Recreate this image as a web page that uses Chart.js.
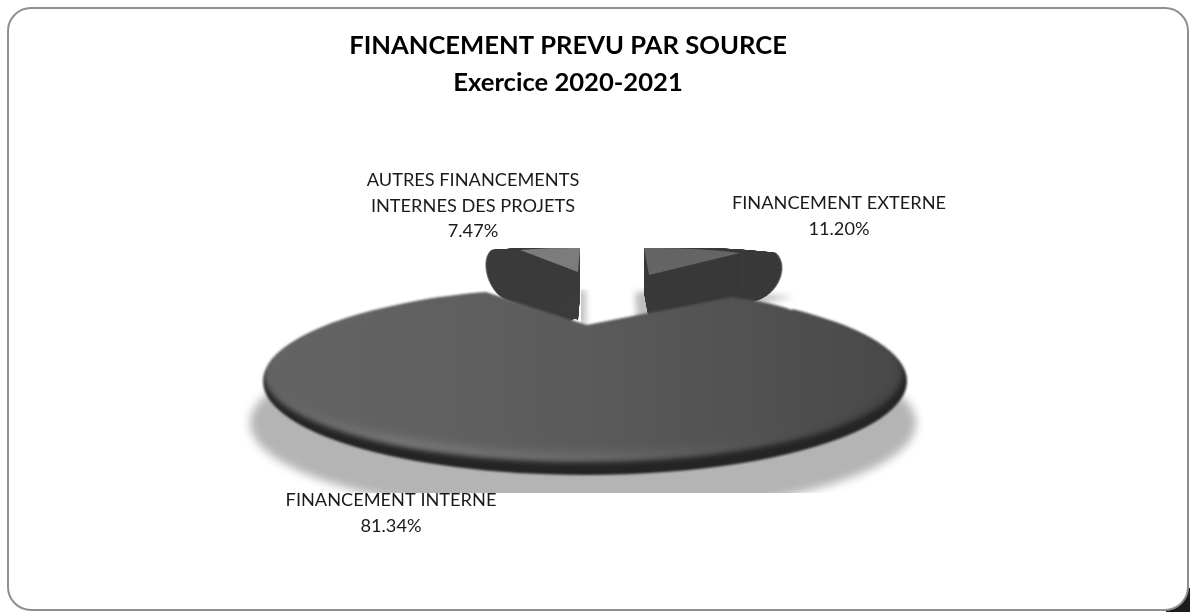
<!DOCTYPE html>
<html lang="fr">
<head>
<meta charset="utf-8">
<title>Financement prévu par source</title>
<script src="https://cdn.jsdelivr.net/npm/chart.js@4"></script>
<style>
html,body{margin:0;padding:0;background:#fff;width:1190px;height:612px;overflow:hidden}
#corner{position:absolute;right:0;bottom:0;width:24px;height:24px;background:#1c1c1c}
#frame{position:absolute;left:7px;top:7px;width:1178px;height:600px;border:2.5px solid #8f8f8f;border-radius:24px;background:#fff}
canvas{position:absolute;left:0;top:0}
</style>
</head>
<body>
<div id="corner"></div><div id="frame"></div>
<canvas id="c" width="1190" height="612"></canvas>
<script>
const titleLines = ["FINANCEMENT PREVU PAR SOURCE", "Exercice 2020-2021"];
const categories = ["FINANCEMENT EXTERNE", "FINANCEMENT INTERNE", "AUTRES FINANCEMENTS INTERNES DES PROJETS"];
const values = [11.20, 81.34, 7.47];
const labelLines = [["FINANCEMENT EXTERNE"], ["FINANCEMENT INTERNE"], ["AUTRES FINANCEMENTS", "INTERNES DES PROJETS"]];
const labelPlaces = [{x:839,y:203},{x:391,y:500},{x:473,y:180}];

// Drawing a slice with its own transform and colour, using the element Chart.js laid out.
function paint(ctx, arc, color) {
  const proxy = Object.create(arc, {
    options: {value: {...arc.options, backgroundColor: color, borderWidth: 0, borderColor: 'transparent', offset: 0, spacing: 0}, writable: true},
    pixelMargin: {value: 0, writable: true},
    fullCircles: {value: 0, writable: true}
  });
  Chart.elements.ArcElement.prototype.draw.call(proxy, ctx);
}
function flat(ctx, arc, cx, cy, rx, ry, color) {
  ctx.save();
  ctx.translate(cx, cy);
  ctx.scale(rx / arc.outerRadius, ry / arc.outerRadius);
  ctx.translate(-arc.x, -arc.y);
  paint(ctx, arc, color);
  ctx.restore();
}
// maps apex + two rim corners of the slice onto the given points
function mapped(ctx, arc, apex, c1, c2, color, dx, dy) {
  const R = arc.outerRadius;
  const a = arc.startAngle, b = arc.endAngle;
  const e1 = [Math.cos(a), Math.sin(a)], e2 = [Math.cos(b), Math.sin(b)];
  const det = e1[0]*e2[1] - e2[0]*e1[1];
  const inv = [e2[1]/det, -e2[0]/det, -e1[1]/det, e1[0]/det];
  const u = [c1[0]-apex[0], c1[1]-apex[1]], v = [c2[0]-apex[0], c2[1]-apex[1]];
  const m = [
    (u[0]*inv[0] + v[0]*inv[2]) / R,
    (u[1]*inv[0] + v[1]*inv[2]) / R,
    (u[0]*inv[1] + v[0]*inv[3]) / R,
    (u[1]*inv[1] + v[1]*inv[3]) / R
  ];
  ctx.save();
  ctx.translate(apex[0] + (dx||0), apex[1] + (dy||0));
  ctx.transform(m[0], m[1], m[2], m[3], 0, 0);
  ctx.translate(-arc.x, -arc.y);
  paint(ctx, arc, color);
  ctx.restore();
}
// extrudes the facet along a sheared elliptical path to build the rounded body
function sweep(ctx, arc, apex, c1, c2, color, s) {
  const at = (r, th) => [
    s.clampX(s.cx + r * s.a * Math.cos(th)),
    Math.max(0, s.cy + r * (s.b * Math.sin(th) + s.c * Math.cos(th)))
  ];
  const steps = 360;
  for (let k = 0; k < steps; k++) {
    const t = at(1, k / steps * Math.PI * 2);
    mapped(ctx, arc, apex, c1, c2, color, t[0], t[1]);
  }
  for (let r = 0; r < 1; r += 0.12) {
    for (let k = 0; k < 60; k++) {
      const t = at(r, k / 60 * Math.PI * 2);
      mapped(ctx, arc, apex, c1, c2, color, t[0], t[1]);
    }
  }
  for (let y = 0; y <= s.depth; y += 0.5) mapped(ctx, arc, apex, c1, c2, color, 0, y);
}

const pie3d = {
  id: 'pie3d',
  beforeDatasetsDraw(chart) {
    const ctx = chart.ctx;
    const [ext, big, aut] = chart.getDatasetMeta(0).data;
    const w = chart.width, h = chart.height;
    const off = () => { const c = document.createElement('canvas'); c.width = w; c.height = h; return c; };

    // cast shadow of the large slice, cut flat at its foot
    ctx.save();
    ctx.beginPath(); ctx.rect(0, 0, w, 493); ctx.clip();
    ctx.filter = 'blur(5px)';
    flat(ctx, big, 583, 423, 333, 92, '#b4b4b4');
    ctx.restore();

    // shadows of the two detached slices
    ctx.save();
    ctx.filter = 'blur(3px)';
    ctx.save(); ctx.beginPath(); ctx.rect(581, 289, 40, 45); ctx.clip();
    mapped(ctx, aut, [586,326], [500,292], [586,290], '#c2c2c2');
    ctx.restore();
    mapped(ctx, ext, [637,326], [635,292], [794,297], '#bdbdbd');
    ctx.restore();

    // detached slices: body and lit facet
    const wedges = off();
    const W = wedges.getContext('2d');
    sweep(W, aut, [578,272], [520,250], [580,248], '#3b3b3b',
      {cx:-17, cy:24, a:18, b:24, c:9, clampX: x => Math.min(x, 0), depth:48});
    sweep(W, ext, [649,275], [644,248], [740,253], '#393939',
      {cx:18, cy:22, a:25, b:25, c:-7, clampX: x => Math.max(x, 0), depth:36});
    ctx.save();
    ctx.filter = 'blur(0.7px)';
    ctx.drawImage(wedges, 0, 0);
    mapped(ctx, aut, [578,272], [520,250], [580,248], '#7c7c7c');
    mapped(ctx, ext, [649,275], [644,248], [740,253], '#646464');
    ctx.restore();

    // the large slice: dark rim, lit band, face
    const layer = off();
    const L = layer.getContext('2d');
    const gradient = (c, stops) => {
      const g = c.createLinearGradient(263, 0, 907, 0);
      stops.forEach((s, i) => g.addColorStop(i / (stops.length - 1), s));
      return g;
    };
    const humps = [[587,325,224,37],[586,350,224,60]];
    flat(L, big, 585, 381, 322, 94, '#242424');
    humps.forEach(p => flat(L, big, p[0], p[1], p[2], p[3], '#242424'));
    L.globalCompositeOperation = 'source-atop';
    L.filter = 'blur(2.5px)';
    flat(L, big, 583, 374, 319, 88, gradient(L, ['#555555', '#7a7a7a', '#6a6a6a', '#4c4c4c', '#303030']));
    L.filter = 'none';

    const faceLayer = off();
    const F = faceLayer.getContext('2d');
    F.filter = 'blur(5px)';
    flat(F, big, 584, 370, 316, 83, '#000');
    F.filter = 'none';
    humps.forEach(p => flat(F, big, p[0], p[1], p[2], p[3], '#000'));
    F.globalCompositeOperation = 'source-in';
    F.fillStyle = gradient(F, ['#636363', '#616161', '#5b5b5b', '#525252', '#484848']);
    F.fillRect(0, 0, w, h);
    L.drawImage(faceLayer, 0, 0);

    ctx.save();
    ctx.filter = 'blur(0.8px)';
    ctx.drawImage(layer, 0, 0);
    ctx.restore();
    return false;
  },
  afterDraw(chart) {
    const ctx = chart.ctx;
    ctx.save();
    ctx.fillStyle = '#1a1a1a';
    ctx.font = '18.2px Lato';
    ctx.textAlign = 'center';
    ctx.textBaseline = 'middle';
    labelLines.forEach((lines, i) => {
      const p = labelPlaces[i];
      const all = [...lines, values[i].toFixed(2) + '%'];
      all.forEach((t, j) => ctx.fillText(t, p.x, p.y + j * 25.7));
    });
    ctx.restore();
  }
};

new Chart(document.getElementById('c'), {
  type: 'pie',
  data: {labels: categories, datasets: [{data: values, backgroundColor: ['#555555','#555555','#555555'], borderWidth: 0}]},
  options: {
    responsive: false,
    animation: false,
    events: [],
    rotation: 0,
    layout: {padding: {top: 10, right: 54}},
    plugins: {
      legend: {display: false},
      tooltip: {enabled: false},
      title: {
        display: true,
        text: titleLines,
        color: '#000',
        font: {family: 'Lato', size: 25.6, weight: 'bold', lineHeight: 1.445},
        padding: {top: 17, bottom: 0}
      }
    }
  },
  plugins: [pie3d]
});
</script>
</body>
</html>
